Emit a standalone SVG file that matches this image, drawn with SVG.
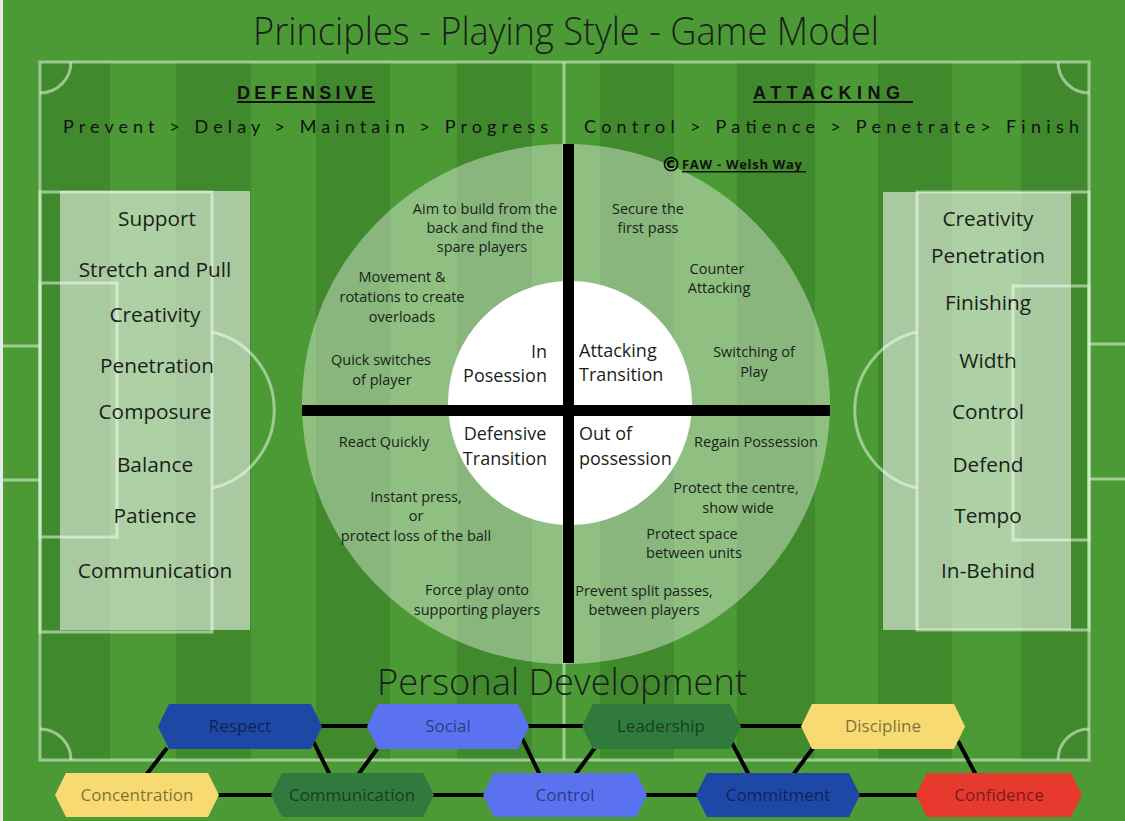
<svg xmlns="http://www.w3.org/2000/svg" width="1125" height="821" viewBox="0 0 1125 821">
<style>
.t{font-family:"Open Sans","Liberation Sans",sans-serif;fill:#1a1f1a}
.q{font-size:14.5px;text-anchor:middle}
.side{font-size:20.8px;text-anchor:middle}
.core{font-size:18px}
.pl{fill:none;stroke:#d8eed2;stroke-opacity:.6;stroke-width:3}
.stripe{fill:#40892d}
.hexnode polygon{stroke:none}
.hexnode text{font-family:"Open Sans","Liberation Sans",sans-serif;font-size:17px;text-anchor:middle;fill:#000;fill-opacity:.5}
.conn line{stroke:#000;stroke-width:4;stroke-linecap:butt}
.hd{font-family:"Liberation Sans",Arial,sans-serif;font-weight:bold;font-size:18px;fill:#111}
.seq{font-family:"Lato","Liberation Sans",sans-serif;font-size:18px;fill:#111}
</style>
<rect x="0" y="0" width="1125" height="821" fill="#4b9a35"/>
<rect x="0" y="0" width="3" height="821" fill="#e6ebe4"/>
<g id="stripes">
<rect class="stripe" x="40" y="62" width="70" height="698"/>
<rect class="stripe" x="176" y="62" width="75" height="698"/>
<rect class="stripe" x="316" y="62" width="74" height="698"/>
<rect class="stripe" x="457" y="62" width="75" height="698"/>
<rect class="stripe" x="600" y="62" width="74" height="698"/>
<rect class="stripe" x="737" y="62" width="78" height="698"/>
<rect class="stripe" x="878" y="62" width="74" height="698"/>
<rect class="stripe" x="1021" y="62" width="68" height="698"/>
</g>
<g id="pitch-lines">
<rect class="pl" x="40" y="62" width="1049" height="698"/>
<line class="pl" x1="564" y1="62" x2="564" y2="760"/>
<path class="pl" d="M40 93 A31 31 0 0 0 71 62"/>
<path class="pl" d="M1058 62 A31 31 0 0 0 1089 93"/>
<path class="pl" d="M71 760 A31 31 0 0 0 40 729"/>
<path class="pl" d="M1089 729 A31 31 0 0 0 1058 760"/>
<rect class="pl" x="40" y="192" width="172" height="440"/>
<rect class="pl" x="40" y="283" width="77" height="254"/>
<path class="pl" d="M212 332 A80 80 0 0 1 212 488"/>
<line class="pl" x1="3" y1="346" x2="40" y2="346"/>
<line class="pl" x1="3" y1="480" x2="40" y2="480"/>
<rect class="pl" x="917" y="192" width="172" height="438"/>
<rect class="pl" x="1013" y="286" width="76" height="254"/>
<path class="pl" d="M917 332 A80 80 0 0 0 917 488"/>
<line class="pl" x1="1089" y1="344" x2="1125" y2="344"/>
<line class="pl" x1="1089" y1="479" x2="1125" y2="479"/>
</g>
<text class="t" x="566" y="45" font-size="38" font-weight="300" text-anchor="middle" textLength="626" lengthAdjust="spacingAndGlyphs">Principles - Playing Style - Game Model</text>
<g id="defensive-header">
<text class="hd" x="237" y="99" textLength="136" lengthAdjust="spacing">DEFENSIVE</text>
<rect x="237" y="101" width="138" height="2" fill="#111"/>
<text class="seq" x="63" y="133" textLength="485" lengthAdjust="spacing">Prevent &gt; Delay &gt; Maintain &gt; Progress</text>
</g>
<g id="attacking-header">
<text class="hd" x="753" y="99" textLength="147" lengthAdjust="spacing">ATTACKING</text>
<rect x="753" y="101" width="160" height="2" fill="#111"/>
<text class="seq" x="584" y="133" textLength="495" lengthAdjust="spacing">Control &gt; Patience &gt; Penetrate&gt; Finish</text>
</g>
<g id="left-panel">
<rect x="60" y="191" width="190" height="439" fill="#fff" fill-opacity=".55"/>
<text class="t side" x="157" y="226">Support</text>
<text class="t side" x="155" y="277">Stretch and Pull</text>
<text class="t side" x="155" y="322">Creativity</text>
<text class="t side" x="157" y="373">Penetration</text>
<text class="t side" x="155" y="419">Composure</text>
<text class="t side" x="155" y="472">Balance</text>
<text class="t side" x="155" y="523">Patience</text>
<text class="t side" x="155" y="578">Communication</text>
</g>
<g id="right-panel">
<rect x="883" y="192" width="188" height="438" fill="#fff" fill-opacity=".55"/>
<text class="t side" x="988" y="226">Creativity</text>
<text class="t side" x="988" y="263">Penetration</text>
<text class="t side" x="988" y="310">Finishing</text>
<text class="t side" x="988" y="368">Width</text>
<text class="t side" x="988" y="419">Control</text>
<text class="t side" x="988" y="472">Defend</text>
<text class="t side" x="988" y="523">Tempo</text>
<text class="t side" x="988" y="578">In-Behind</text>
</g>
<g id="game-model-wheel">
<ellipse cx="566" cy="404" rx="264" ry="260" fill="#fff" fill-opacity=".38"/>
<circle cx="570" cy="403" r="122" fill="#fff"/>
<rect x="563" y="144" width="11" height="519" fill="#000"/>
<rect x="302" y="405" width="528" height="11" fill="#000"/>
</g>
<g id="in-possession">
<text class="t core" x="547" y="358" text-anchor="end">In</text>
<text class="t core" x="547" y="382" text-anchor="end">Posession</text>
<text class="t q" x="485" y="214">Aim to build from the</text>
<text class="t q" x="485" y="233">back and find the</text>
<text class="t q" x="482" y="252">spare players</text>
<text class="t q" x="402" y="282">Movement &amp;</text>
<text class="t q" x="402" y="302">rotations to create</text>
<text class="t q" x="402" y="322">overloads</text>
<text class="t q" x="381" y="365">Quick switches</text>
<text class="t q" x="382" y="385">of player</text>
</g>
<g id="attacking-transition">
<text class="t core" x="579" y="357">Attacking</text>
<text class="t core" x="579" y="381">Transition</text>
<text class="t q" x="648" y="214">Secure the</text>
<text class="t q" x="648" y="233">first pass</text>
<text class="t q" x="717" y="274">Counter</text>
<text class="t q" x="719" y="293">Attacking</text>
<text class="t q" x="754" y="357">Switching of</text>
<text class="t q" x="754" y="377">Play</text>
</g>
<g id="defensive-transition">
<text class="t core" x="505" y="440" text-anchor="middle">Defensive</text>
<text class="t core" x="505" y="465" text-anchor="middle">Transition</text>
<text class="t q" x="384" y="447">React Quickly</text>
<text class="t q" x="416" y="502">Instant press,</text>
<text class="t q" x="416" y="521">or</text>
<text class="t q" x="416" y="541">protect loss of the ball</text>
<text class="t q" x="477" y="595">Force play onto</text>
<text class="t q" x="477" y="615">supporting players</text>
</g>
<g id="out-of-possession">
<text class="t core" x="579" y="440">Out of</text>
<text class="t core" x="579" y="465">possession</text>
<text class="t q" x="756" y="447">Regain Possession</text>
<text class="t q" x="736" y="493">Protect the centre,</text>
<text class="t q" x="738" y="513">show wide</text>
<text class="t q" x="692" y="539">Protect space</text>
<text class="t q" x="694" y="558">between units</text>
<text class="t q" x="644" y="596">Prevent split passes,</text>
<text class="t q" x="644" y="615">between players</text>
</g>
<g id="copyright">
<text x="671" y="171" font-family="'DejaVu Sans',sans-serif" font-weight="bold" font-size="20" text-anchor="middle" fill="#000">©</text>
<text x="682" y="169" font-family="'Open Sans','Liberation Sans',sans-serif" font-weight="bold" font-size="13" fill="#111" textLength="120" lengthAdjust="spacing">FAW - Welsh Way</text>
<rect x="682" y="171" width="124" height="1.5" fill="#111"/>
</g>
<text class="t" x="562" y="695" font-size="36" font-weight="300" text-anchor="middle" textLength="370" lengthAdjust="spacingAndGlyphs">Personal Development</text>
<g id="connectors" class="conn">
<line x1="318" y1="726" x2="371" y2="726"/>
<line x1="525" y1="726" x2="586" y2="726"/>
<line x1="737" y1="726" x2="805" y2="726"/>
<line x1="215" y1="795" x2="275" y2="795"/>
<line x1="430" y1="795" x2="487" y2="795"/>
<line x1="643" y1="795" x2="700" y2="795"/>
<line x1="856" y1="795" x2="920" y2="795"/>
<line x1="167" y1="748" x2="143" y2="779"/>
<line x1="313" y1="741" x2="330" y2="775"/>
<line x1="377" y1="749" x2="355" y2="779"/>
<line x1="522" y1="738" x2="540" y2="775"/>
<line x1="597" y1="745" x2="574" y2="776"/>
<line x1="731" y1="741" x2="749" y2="775"/>
<line x1="813" y1="748" x2="790" y2="779"/>
<line x1="958" y1="741" x2="976" y2="775"/>
</g>
<g id="respect" class="hexnode"><polygon points="158,726.5 169,704 311,704 322,726.5 311,749 169,749" fill="#1e47a6"/><text x="240" y="732">Respect</text></g>
<g id="social" class="hexnode"><polygon points="367,726.5 378,704 518,704 529,726.5 518,749 378,749" fill="#5a72f0"/><text x="448" y="732">Social</text></g>
<g id="leadership" class="hexnode"><polygon points="582,726.5 593,704 730,704 741,726.5 730,749 593,749" fill="#2f7a3c"/><text x="661" y="732">Leadership</text></g>
<g id="discipline" class="hexnode"><polygon points="801,726.5 812,704 954,704 965,726.5 954,749 812,749" fill="#f7da72"/><text x="883" y="732">Discipline</text></g>
<g id="concentration" class="hexnode"><polygon points="55,795 66,773 208,773 219,795 208,817 66,817" fill="#f7da72"/><text x="137" y="801">Concentration</text></g>
<g id="communication" class="hexnode"><polygon points="271,795 282,773 423,773 434,795 423,817 282,817" fill="#2f7a3c"/><text x="352" y="801">Communication</text></g>
<g id="control" class="hexnode"><polygon points="483,795 494,773 636,773 647,795 636,817 494,817" fill="#5a72f0"/><text x="565" y="801">Control</text></g>
<g id="commitment" class="hexnode"><polygon points="696,795 707,773 849,773 860,795 849,817 707,817" fill="#1e47a6"/><text x="778" y="801">Commitment</text></g>
<g id="confidence" class="hexnode"><polygon points="916,795 927,773 1071,773 1082,795 1071,817 927,817" fill="#e8392f"/><text x="999" y="801">Confidence</text></g>
</svg>
